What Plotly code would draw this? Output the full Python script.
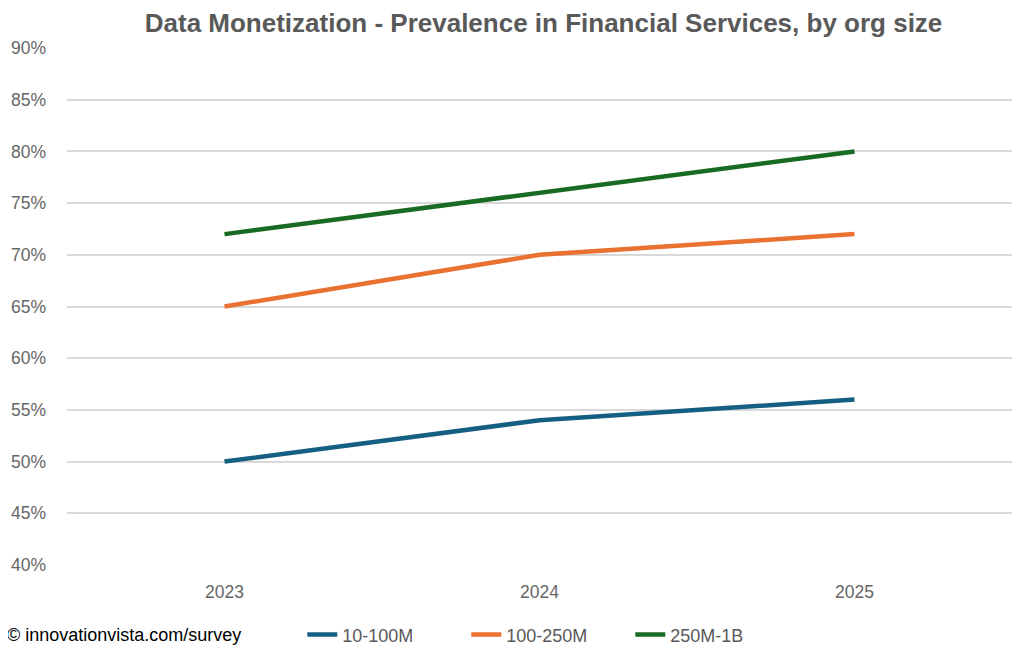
import plotly.graph_objects as go

years = ["2023", "2024", "2025"]
s_small = [0.50, 0.54, 0.56]
s_mid = [0.65, 0.70, 0.72]
s_large = [0.72, 0.76, 0.80]
names = ["10-100M", "100-250M", "250M-1B"]
colors = ["#156082", "#E97132", "#196B24"]

fig = go.Figure()
for vals, name, col in zip([s_small, s_mid, s_large], names, colors):
    fig.add_trace(go.Scatter(x=years, y=vals, name=name, mode="lines",
                             line=dict(color=col, width=4.5)))

tick_font = dict(family="Liberation Sans, Arial, sans-serif", size=17.5, color="#666666")
fig.update_layout(
    width=1024, height=656,
    paper_bgcolor="white", plot_bgcolor="white",
    margin=dict(l=59, r=20, t=40, b=99, autoexpand=False),
    title=dict(text="<b>Data Monetization - Prevalence in Financial Services, by org size</b>",
               x=0.523, xanchor="center", y=0.977, yanchor="middle",
               font=dict(family="Liberation Sans, Arial, sans-serif", size=26, color="#595959")),
    xaxis=dict(type="category", range=[-0.5, 2.5], showgrid=False, showline=False,
               ticks="", tickfont=tick_font, ticklabelstandoff=14),
    yaxis=dict(range=[0.40, 0.90], dtick=0.05, tickformat=".0%", showgrid=True,
               gridcolor="#D9D9D9", gridwidth=1.5, zeroline=False, showline=False,
               tickfont=tick_font, ticks="", ticklabelstandoff=20),
    legend=dict(orientation="h", x=0.249, xanchor="left", y=-0.135, yanchor="middle",
                font=dict(family="Liberation Sans, Arial, sans-serif", size=18, color="#595959"),
                itemwidth=30, tracegroupgap=0, entrywidth=119, entrywidthmode="pixels"),
    showlegend=True,
)
fig.add_annotation(text="© innovationvista.com/survey", xref="paper", yref="paper",
                   x=-0.066, xanchor="left", y=-0.135, yanchor="middle", showarrow=False,
                   font=dict(family="Liberation Sans, Arial, sans-serif", size=18, color="#000000"))
fig.write_html("out.html")
